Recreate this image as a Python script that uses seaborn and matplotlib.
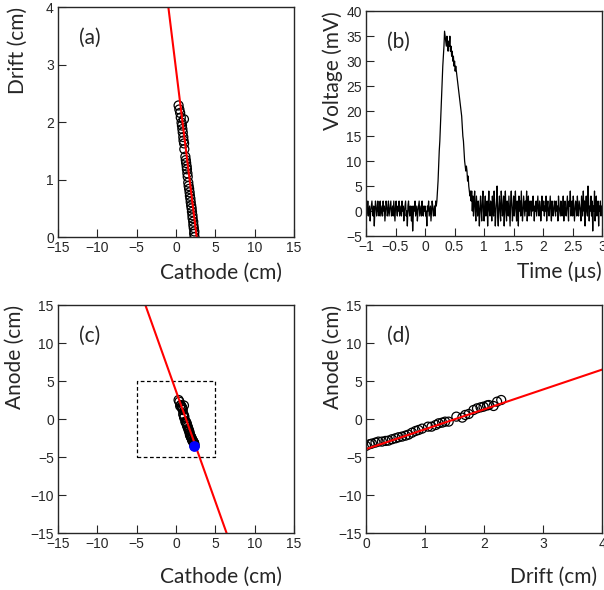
import matplotlib
matplotlib.use("Agg")
import matplotlib.pyplot as plt
import matplotlib.patches as patches
import seaborn as sns
import numpy as np

# track hits
drift = [0.00, 0.06, 0.10, 0.16, 0.21, 0.27, 0.33, 0.38, 0.44, 0.50, 0.55, 0.61,
         0.67, 0.72, 0.78, 0.84, 0.89, 0.95, 1.05, 1.11, 1.18, 1.23, 1.29, 1.34,
         1.40, 1.53, 1.63, 1.68, 1.74, 1.82, 1.88, 1.94, 1.99, 2.05, 2.08, 2.16,
         2.22, 2.29]
cathode = [2.35, 2.30, 2.32, 2.25, 2.20, 2.18, 2.10, 2.08, 2.02, 1.98, 1.92, 1.86,
           1.82, 1.76, 1.72, 1.66, 1.60, 1.55, 1.48, 1.44, 1.38, 1.35, 1.28, 1.24,
           1.18, 1.05, 1.02, 0.95, 0.92, 0.85, 0.80, 0.75, 0.70, 1.00, 0.60, 0.52,
           0.42, 0.32]
anode = [-3.53, -3.31, -3.22, -3.09, -2.96, -2.96, -2.87, -2.83, -2.65, -2.52, -2.39, -2.30,
         -2.17, -2.04, -1.78, -1.56, -1.43, -1.25, -0.99, -0.99, -0.77, -0.55, -0.46, -0.33,
         -0.33, 0.33, 0.20, 0.55, 0.68, 1.20, 1.42, 1.55, 1.64, 1.80, 1.86, 1.73,
         2.30, 2.52]

# fitted lines
cath_fit = (2.62, -0.90)     # cathode = a + b * drift
anode_fit = (-3.95, 2.62)    # anode = a + b * drift
start_point = (2.3, -3.5)
box_half = 5

# waveform, 0.01 us sampling from -1 to 3 us
voltage = [
    1, -1, 0, 2, -1, 0, 1, -2, 0, 1, 2, 0, -1, 1, -3, 0, 2, 1, -1, 0,
    2, 0, -1, 1, 2, -1, 0, 1, -1, 2, 0, 1, -2, 0, 2, 1, -1, 0, 2, -1,
    0, 1, 2, -1, 0, 1, -1, 2, 0, -2, 1, 2, 0, -1, 1, 0, 2, -1, 0, 1,
    -1, 2, 0, 1, -2, 0, 1, 2, -1, 0, -3, 1, 2, 0, -1, 1, 0, -2, 1, -4,
    -1, 1, 0, 2, -1, 0, 1, -2, 0, 1, 2, -1, 0, 1, -1, 2, 0, -1, 1, 0,
    1, -1, 0, -3, 1, 0, 2, -1, 0, 1, -2, 0, 2, 1, -1, 0, 1, -1, 2, 1,
    2, 4, 6, 9, 12, 14, 17, 20, 23, 26,
    29, 31, 33, 36, 35, 34, 33, 35, 34, 32,
    34, 33, 35, 32, 33, 31, 32, 30, 31, 29,
    30, 28, 29, 28, 27, 26, 25, 24, 23, 22,
    21, 20, 19, 17, 15, 14, 12, 10, 9, 8,
    9, 8, 6, 7, 5, 4, 3, 4, 2, 4,
    0, 3, -1, 2, 4, 0, -2, 3, 1, -1, 2, 0, -3, 1, 3, 0, -2, 2, 4, 0,
    -2, 1, 3, -1, 0, 2, -3, 1, 4, 0, -1, 2, 1, -2, 3, 0, -1, 4, 1, -3,
    0, 2, 5, -1, -3, 1, 3, 0, -2, 4, 2, -1, 0, 3, -3, 1, 4, 0, -2, 2,
    1, -1, 3, 0, -3, 2, 4, 1, -2, 0, 3, -1, 1, 4, 0, -2, 2, 1, -3, 3,
    0, 2, -1, 4, 1, -2, 0, 3, 1, -1, 2, 0, 4, -2, 1, 3, -1, 0, 2, 1,
    -1, 2, 0, 3, 1, -2, 1, 0, 2, -1, 1, 3, 0, -1, 2, 1, -2, 0, 3, 1,
    0, 2, -1, 1, 0, 3, -2, 1, 2, 0, -1, 1, 3, 0, -2, 2, 1, -1, 0, 2,
    1, -1, 2, 0, 1, -2, 3, 1, 0, -1, 2, 1, -1, 0, 3, -2, 1, 2, 0, -1,
    1, 3, 0, -2, 2, 1, 4, -1, 0, 2, -1, 3, 1, -2, 0, 2, 1, -1, 3, 0,
    -1, 2, 1, 0, -2, 3, 1, -1, 4, 0, 2, -3, 1, 3, 0, -1, 5, 2, -2, 1,
    0, 3, -1, 2, -4, 1, 0, 4, -2, 1, 3, -1, 0, 2, -3, 1, 0, 2, -1, 1,
    0,
]
time = np.linspace(-1, 3, len(voltage))

sns.set_style("ticks", {"xtick.direction": "in", "ytick.direction": "in"})
plt.rcParams["font.family"] = ["Liberation Sans", "DejaVu Sans"]
plt.rcParams["xtick.labelsize"] = 10
plt.rcParams["ytick.labelsize"] = 10
plt.rcParams["xtick.major.size"] = 6
plt.rcParams["ytick.major.size"] = 6
plt.rcParams["xtick.major.pad"] = 3
plt.rcParams["ytick.major.pad"] = 3
plt.rcParams["axes.linewidth"] = 1.0

title_font = dict(family=["Lato", "DejaVu Sans"], fontsize=15)

fig = plt.figure(figsize=(6.04, 5.90), dpi=100)
ax_a = fig.add_axes([0.096, 0.598, 0.391, 0.390])
ax_b = fig.add_axes([0.606, 0.600, 0.391, 0.381])
ax_c = fig.add_axes([0.096, 0.0966, 0.391, 0.386])
ax_d = fig.add_axes([0.606, 0.0966, 0.391, 0.386])

hit_style = dict(s=42, facecolor="none", edgecolor="black", linewidth=0.9)

# (a) drift vs cathode
d_line = np.array([0, 4])
sns.scatterplot(x=cathode, y=drift, ax=ax_a, **hit_style)
ax_a.plot(cath_fit[0] + cath_fit[1] * d_line, d_line, color="red", lw=1.5)
ax_a.set_xlim(-15, 15)
ax_a.set_ylim(0, 4)
ax_a.set_xticks([-15, -10, -5, 0, 5, 10, 15])
ax_a.set_yticks([0, 1, 2, 3, 4])

# (b) waveform
sns.lineplot(x=time, y=voltage, ax=ax_b, color="black", lw=0.9, estimator=None)
ax_b.set_xlim(-1, 3)
ax_b.set_ylim(-5, 40)
ax_b.set_xticks([-1, -0.5, 0, 0.5, 1, 1.5, 2, 2.5, 3])
ax_b.set_xticklabels(["\u22121", "\u22120.5", "0", "0.5", "1", "1.5", "2", "2.5", "3"])
ax_b.set_yticks(range(-5, 41, 5))

# (c) anode vs cathode, line traced along drift beyond the hits
sns.scatterplot(x=cathode, y=anode, ax=ax_c, **hit_style)
d_ext = np.array([-5.0, 8.0])
ax_c.plot(cath_fit[0] + cath_fit[1] * d_ext, anode_fit[0] + anode_fit[1] * d_ext,
          color="red", lw=1.5)
ax_c.add_patch(patches.Rectangle((-box_half, -box_half), 2 * box_half, 2 * box_half,
                                 fill=False, ls=(0, (3, 2)), lw=0.9, edgecolor="black"))
ax_c.scatter([start_point[0]], [start_point[1]], s=45, color="blue", zorder=5)
ax_c.set_xlim(-15, 15)
ax_c.set_ylim(-15, 15)
ax_c.set_xticks([-15, -10, -5, 0, 5, 10, 15])
ax_c.set_yticks([-15, -10, -5, 0, 5, 10, 15])

# (d) anode vs drift
sns.scatterplot(x=drift, y=anode, ax=ax_d, **hit_style)
ax_d.plot(d_line, anode_fit[0] + anode_fit[1] * d_line, color="red", lw=1.5)
ax_d.set_xlim(0, 4)
ax_d.set_ylim(-15, 15)
ax_d.set_xticks([0, 1, 2, 3, 4])
ax_d.set_yticks([-15, -10, -5, 0, 5, 10, 15])

labels = [
    (ax_a, "(a)", "Cathode (cm)", "Drift (cm)", (0.95, -0.11), -0.127),
    (ax_b, "(b)", "Time (\u00b5s)", "Voltage (mV)", (1.0, -0.115), -0.097),
    (ax_c, "(c)", "Cathode (cm)", "Anode (cm)", (0.95, -0.15), -0.14),
    (ax_d, "(d)", "Drift (cm)", "Anode (cm)", (0.98, -0.15), -0.10),
]
for ax, tag, xl, yl, xpos, ypos in labels:
    ax.set_xlabel(xl, loc="right", **title_font)
    ax.set_ylabel(yl, loc="top", **title_font)
    ax.xaxis.set_label_coords(*xpos)
    ax.yaxis.set_label_coords(ypos, 1.0)
    ax.text(0.09, 0.865, tag, transform=ax.transAxes, va="center", **title_font)
    ax.tick_params(top=False, right=False)

fig.savefig("out.png", dpi=100)
